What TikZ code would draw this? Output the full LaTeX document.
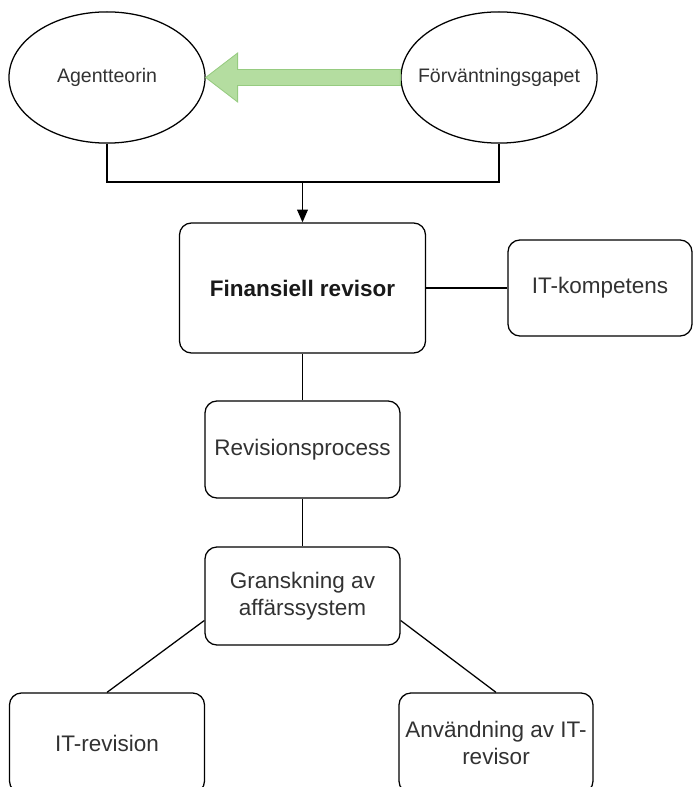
\documentclass[tikz,border=0pt]{standalone}
\usepackage{fontspec}
\setmainfont{Liberation Sans}
\usetikzlibrary{shapes.geometric,arrows.meta,calc}

\definecolor{arrowfill}{RGB}{180,221,160}
\definecolor{arrowline}{RGB}{150,203,128}
\definecolor{textgray}{RGB}{50,50,50}

\tikzset{
    box/.style={draw,rounded corners=0.3cm,align=center,text=textgray,
        font=\fontsize{16}{19.5}\selectfont,line width=0.9pt,inner sep=2pt},
    oval/.style={draw,ellipse,inner sep=0pt,text=textgray,
        font=\fontsize{13.9}{16}\selectfont,line width=0.9pt,
        minimum width=4.9cm,minimum height=3.28cm},
    link/.style={line width=0.9pt},
}

\begin{document}
\begin{tikzpicture}[x=0.025cm,y=-0.025cm]
    \useasboundingbox (0,0) rectangle (694,787);

    % theories on top
    \node[oval] (agent) at (107,77.5) {\makebox[0pt]{Agentteorin}};
    \node[oval] (gap) at (499,77.5) {\makebox[0pt]{Förväntningsgapet}};

    % green block arrow between the two theories
    \filldraw[fill=arrowfill,draw=arrowline,line width=0.6pt]
        ($(gap.west)+(0,-8)$) -- ($(agent.east)+(32,-8)$) -- ($(agent.east)+(32,-24.5)$)
        -- (agent.east) -- ($(agent.east)+(32,24.5)$) -- ($(agent.east)+(32,8)$)
        -- ($(gap.west)+(0,8)$) -- cycle;

    % boxes
    \node[box,minimum width=6.15cm,minimum height=3.25cm,font=\fontsize{16}{19.5}\selectfont\bfseries,text=black!90]
        (fin) at (302.5,288) {Finansiell revisor};
    \node[box,minimum width=4.6cm,minimum height=2.4cm] (itk) at (600,288) {IT-kompetens};
    \node[box,minimum width=4.875cm,minimum height=2.425cm] (rev) at (302.5,449.5) {Revisionsprocess};
    \node[box,minimum width=4.875cm,minimum height=2.45cm] (gran) at (302.5,596) {Granskning av\\affärssystem};
    \node[box,minimum width=4.875cm,minimum height=2.5cm] (itr) at (107,743) {IT-revision};
    \node[box,minimum width=4.85cm,minimum height=2.5cm] (anv) at (496,743) {Användning av IT-\\revisor};

    % connectors
    \coordinate (join) at (302.5,182);
    \draw[link] (agent.south) |- (join) -| (gap.south);
    \draw[link,-{Triangle[length=0.32cm,width=0.27cm]}] (join) -- (fin.north);
    \draw[link] (fin.east) -- (itk.west);
    \draw[link] (fin.south) -- (rev.north);
    \draw[link] (rev.south) -- (gran.north);
    \draw[link] (gran.194) -- (itr.north);
    \draw[link] (gran.-14) -- (anv.north);
\end{tikzpicture}
\end{document}
